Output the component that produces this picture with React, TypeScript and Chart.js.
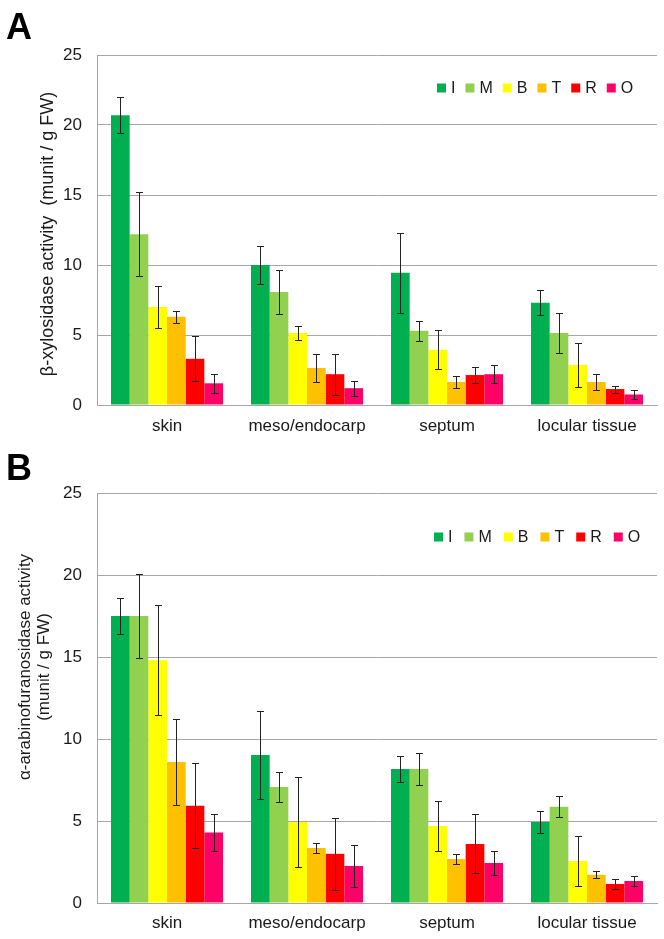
import React, { useEffect, useRef } from "react";
import { Chart, registerables } from "chart.js";
Chart.register(...registerables);

const categories = ["skin", "meso/endocarp", "septum", "locular tissue"];
const seriesLabels = ["I", "M", "B", "T", "R", "O"];
const seriesColors = ["#00B050", "#92D050", "#FFFF00", "#FFC000", "#FF0000", "#FF0066"];
const yMin = 0;
const yMax = 25;
const yStep = 5;

// Panel A: beta-xylosidase (stage series over categories)
const xylI = [20.7, 10.0, 9.45, 7.3];
const xylM = [12.2, 8.07, 5.3, 5.15];
const xylB = [7.0, 5.14, 3.95, 2.87];
const xylT = [6.3, 2.64, 1.65, 1.64];
const xylR = [3.3, 2.2, 2.14, 1.14];
const xylO = [1.55, 1.2, 2.2, 0.75];
const xylErrI = [1.3, 1.35, 2.85, 0.9];
const xylErrM = [3.0, 1.55, 0.7, 1.4];
const xylErrB = [1.5, 0.5, 1.4, 1.57];
const xylErrT = [0.45, 1.03, 0.45, 0.6];
const xylErrR = [1.6, 1.45, 0.6, 0.25];
const xylErrO = [0.7, 0.55, 0.65, 0.32];

// Panel B: alpha-arabinofuranosidase
const araI = [17.5, 9.02, 8.17, 4.94];
const araM = [17.5, 7.07, 8.17, 5.87];
const araB = [14.8, 4.94, 4.7, 2.56];
const araT = [8.6, 3.35, 2.68, 1.72];
const araR = [5.93, 3.0, 3.6, 1.16];
const araO = [4.3, 2.26, 2.44, 1.34];
const araErrI = [1.07, 2.7, 0.8, 0.7];
const araErrM = [2.55, 0.93, 1.0, 0.65];
const araErrB = [3.35, 2.77, 1.5, 1.53];
const araErrT = [2.6, 0.33, 0.3, 0.22];
const araErrR = [2.6, 2.2, 1.8, 0.3];
const araErrO = [1.15, 1.3, 0.73, 0.33];

const FONT = "'Liberation Sans', Arial, sans-serif";
const GRID = "#a6a6a6";
const TEXT = "#1a1a1a";

type PanelProps = {
  letter: string;
  values: number[][];
  errors: number[][];
  titleLines: string[];
  titleXs: number[];
  titleSize: number;
  titleShift: number;
  top: number;
  height: number;
  padTop: number;
  chartBottom: number;
  labelPad: number;
  legendX: number;
  legendY: number;
  legendGap: number;
  letterBaseline: number;
};

function Panel(p: PanelProps) {
  const ref = useRef<HTMLCanvasElement | null>(null);
  useEffect(() => {
    if (!ref.current) return;
    const errorBars = {
      id: "errorBars",
      afterDatasetsDraw(chart: any) {
        const ctx = chart.ctx;
        const ys = chart.scales.y;
        ctx.save();
        ctx.strokeStyle = "#222";
        ctx.lineWidth = 1;
        chart.data.datasets.forEach((ds: any, i: number) => {
          const meta = chart.getDatasetMeta(i);
          meta.data.forEach((el: any, j: number) => {
            const v = ds.data[j];
            const e = p.errors[i][j];
            const x = Math.round(el.x) + 0.5;
            const t = Math.round(ys.getPixelForValue(v + e)) + 0.5;
            const b = Math.round(ys.getPixelForValue(v - e)) + 0.5;
            ctx.beginPath();
            ctx.moveTo(x, t);
            ctx.lineTo(x, b);
            ctx.moveTo(x - 3.5, t);
            ctx.lineTo(x + 3.5, t);
            ctx.moveTo(x - 3.5, b);
            ctx.lineTo(x + 3.5, b);
            ctx.stroke();
          });
        });
        ctx.restore();
      },
    };
    const decorations = {
      id: "decorations",
      afterDraw(chart: any) {
        const ctx = chart.ctx;
        const ca = chart.chartArea;
        ctx.save();
        // panel letter
        ctx.fillStyle = "#000";
        ctx.font = `bold 36px ${FONT}`;
        ctx.textAlign = "left";
        ctx.textBaseline = "alphabetic";
        ctx.fillText(p.letter, 6, p.letterBaseline);
        // y title
        ctx.fillStyle = TEXT;
        ctx.font = `${p.titleSize}px ${FONT}`;
        ctx.textAlign = "center";
        ctx.textBaseline = "middle";
        const cy = (ca.top + ca.bottom) / 2 + p.titleShift;
        p.titleLines.forEach((line, k) => {
          ctx.save();
          ctx.translate(p.titleXs[k], cy);
          ctx.rotate(-Math.PI / 2);
          ctx.fillText(line, 0, 0);
          ctx.restore();
        });
        // legend
        ctx.font = `16px ${FONT}`;
        ctx.textAlign = "left";
        ctx.textBaseline = "middle";
        let x = p.legendX;
        chart.data.datasets.forEach((ds: any) => {
          ctx.fillStyle = ds.backgroundColor;
          ctx.fillRect(x, p.legendY - 4.5, 9, 9);
          x += 9 + 5;
          ctx.fillStyle = TEXT;
          ctx.fillText(ds.label, x, p.legendY + 1);
          x += ctx.measureText(ds.label).width + p.legendGap;
        });
        ctx.restore();
      },
    };
    const chart = new Chart(ref.current, {
      type: "bar",
      data: {
        labels: categories,
        datasets: seriesLabels.map((lab, i) => ({
          label: lab,
          data: p.values[i],
          backgroundColor: seriesColors[i],
          borderWidth: 0,
          categoryPercentage: 0.8,
          barPercentage: 1.0,
        })),
      },
      options: {
        responsive: false,
        animation: false,
        devicePixelRatio: 1,
        layout: { padding: { top: p.padTop, right: 7, left: 0, bottom: 0 } },
        plugins: { legend: { display: false }, tooltip: { enabled: false } },
        scales: {
          x: {
            grid: { display: false, drawTicks: false },
            border: { display: true, color: GRID, width: 1 },
            ticks: { color: TEXT, font: { family: FONT, size: 17 }, padding: p.labelPad },
            afterFit: (s: any) => {
              s.height = p.height - p.chartBottom;
            },
          },
          y: {
            min: yMin,
            max: yMax,
            grid: { color: GRID, lineWidth: 1, drawTicks: false },
            border: { display: true, color: GRID, width: 1 },
            ticks: { stepSize: yStep, color: TEXT, font: { family: FONT, size: 17 }, padding: 15 },
            afterFit: (s: any) => {
              s.width = 97;
            },
          },
        },
      },
      plugins: [errorBars, decorations],
    });
    return () => chart.destroy();
  }, []);
  return (
    <div style={{ position: "absolute", left: 0, top: p.top, width: 664, height: p.height }}>
      <canvas ref={ref} width={664} height={p.height} style={{ display: "block" }} />
    </div>
  );
}

export default function App() {
  return (
    <div style={{ position: "fixed", left: 0, top: 0, width: 664, height: 939, background: "#fff" }}>
      <Panel
        letter="A"
        values={[xylI, xylM, xylB, xylT, xylR, xylO]}
        errors={[xylErrI, xylErrM, xylErrB, xylErrT, xylErrR, xylErrO]}
        titleLines={["β-xylosidase activity  (munit / g FW)"]}
        titleXs={[48]}
        titleSize={18}
        titleShift={4}
        top={0}
        height={445}
        padTop={55}
        chartBottom={405}
        labelPad={11}
        legendX={437}
        legendY={88}
        legendGap={10}
        letterBaseline={39}
      />
      <Panel
        letter="B"
        values={[araI, araM, araB, araT, araR, araO]}
        errors={[araErrI, araErrM, araErrB, araErrT, araErrR, araErrO]}
        titleLines={["α-arabinofuranosidase activity", "(munit / g FW)"]}
        titleXs={[25, 44]}
        titleSize={17}
        titleShift={-31}
        top={445}
        height={494}
        padTop={48}
        chartBottom={458}
        labelPad={10}
        legendX={434}
        legendY={92}
        legendGap={12}
        letterBaseline={35}
      />
    </div>
  );
}
